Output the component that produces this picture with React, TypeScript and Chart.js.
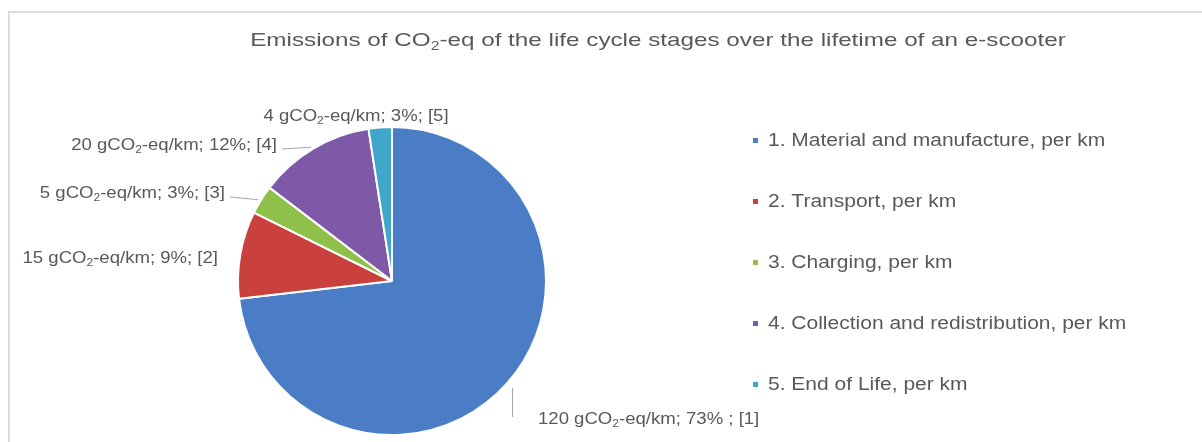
import React, { useEffect, useRef } from 'react';
import { Chart, registerables } from 'chart.js';

Chart.register(...registerables);

// ---------- data ----------
const titleParts = [
  { t: 'Emissions of CO' },
  { t: '2', sub: true },
  { t: '-eq of the life cycle stages over the lifetime of an e-scooter' },
];
const categories = [
  '1. Material and manufacture, per km',
  '2. Transport, per km',
  '3. Charging, per km',
  '4. Collection and redistribution, per km',
  '5. End of Life, per km',
];
const values = [120, 15, 5, 20, 4];
const percentLabels = ['73% ', '9%', '3%', '12%', '3%'];
const refLabels = ['[1]', '[2]', '[3]', '[4]', '[5]'];
const unitPre = ' gCO';
const unitSub = '2';
const unitPost = '-eq/km';

// ---------- styles / layout ----------
const colors = ['#4A7DC6', '#C9403D', '#8EC04A', '#7D59A7', '#3FA7C9'];
const FONT = '"Liberation Sans", Arial, sans-serif';
const TEXT = '#595959';
const LEADER = '#A6A6A6';

// label placement relative to pie centre (dx, dy = baseline)
const labelLayout = [
  { align: 'left', dx: 146, dy: 143, leader: 'vertical' },
  { align: 'right', dx: -174, dy: -18, leader: 'none' },
  { align: 'right', dx: -167, dy: -83, leader: 'side' },
  { align: 'right', dx: -115, dy: -131, leader: 'side' },
  { align: 'center', dx: -36, dy: -160, leader: 'none' },
];

type Part = { t: string; sub?: boolean };

function partsWidth(ctx: CanvasRenderingContext2D, parts: Part[], size: number) {
  let w = 0;
  for (const p of parts) {
    ctx.font = `${p.sub ? size * 0.65 : size}px ${FONT}`;
    w += ctx.measureText(p.t).width;
  }
  return w;
}

function drawRich(
  ctx: CanvasRenderingContext2D,
  parts: Part[],
  x: number,
  y: number,
  size: number,
  sx: number,
  align: string
) {
  const w = partsWidth(ctx, parts, size) * sx;
  const startX = align === 'left' ? x : align === 'right' ? x - w : x - w / 2;
  ctx.save();
  ctx.translate(startX, y);
  ctx.scale(sx, 1);
  ctx.fillStyle = TEXT;
  ctx.textAlign = 'left';
  ctx.textBaseline = 'alphabetic';
  let cx = 0;
  for (const p of parts) {
    const fs = p.sub ? size * 0.65 : size;
    ctx.font = `${fs}px ${FONT}`;
    ctx.fillText(p.t, cx, p.sub ? size * 0.2 : 0);
    cx += ctx.measureText(p.t).width;
  }
  ctx.restore();
  return { left: startX, right: startX + w };
}

const decorPlugin = {
  id: 'decor',
  beforeDraw(chart: any) {
    const ctx: CanvasRenderingContext2D = chart.ctx;
    ctx.save();
    ctx.fillStyle = '#ffffff';
    ctx.fillRect(0, 0, chart.width, chart.height);
    ctx.strokeStyle = '#DCDCDC';
    ctx.lineWidth = 2;
    ctx.beginPath();
    ctx.moveTo(9, chart.height + 2);
    ctx.lineTo(9, 12);
    ctx.lineTo(chart.width + 2, 12);
    ctx.stroke();
    ctx.restore();
  },
  afterDraw(chart: any) {
    const ctx: CanvasRenderingContext2D = chart.ctx;
    // title
    drawRich(ctx, titleParts, 658, 46, 18.5, 1.31, 'center');

    // legend
    categories.forEach((c, i) => {
      const base = 146 + i * 61;
      ctx.save();
      ctx.fillStyle = colors[i];
      ctx.fillRect(753, base - 8, 5, 5);
      ctx.restore();
      drawRich(ctx, [{ t: c }], 768, base, 17.5, 1.2, 'left');
    });

    // data labels
    const meta = chart.getDatasetMeta(0);
    meta.data.forEach((arc: any, i: number) => {
      const cx = arc.x;
      const cy = arc.y;
      const r = arc.outerRadius;
      const mid = (arc.startAngle + arc.endAngle) / 2;
      const L = labelLayout[i];
      const parts: Part[] = [
        { t: `${values[i]}${unitPre}` },
        { t: unitSub, sub: true },
        { t: `${unitPost}; ${percentLabels[i]}; ${refLabels[i]}` },
      ];
      const tx = cx + L.dx;
      const ty = cy + L.dy;
      const box = drawRich(ctx, parts, tx, ty, 16, 1.16, L.align);
      ctx.save();
      ctx.strokeStyle = LEADER;
      ctx.lineWidth = 1;
      if (L.leader === 'side') {
        const ex = cx + Math.cos(mid) * (r + 4);
        const ey = cy + Math.sin(mid) * (r + 4);
        ctx.beginPath();
        ctx.moveTo(box.right + 5, ty - 1);
        ctx.lineTo(ex, ey + 2);
        ctx.stroke();
      } else if (L.leader === 'vertical') {
        const sx = cx + Math.cos(mid) * (r + 7);
        const sy = cy + Math.sin(mid) * (r + 7);
        ctx.beginPath();
        ctx.moveTo(Math.round(sx) + 0.5, sy);
        ctx.lineTo(Math.round(sx) + 0.5, ty - 7);
        ctx.stroke();
      }
      ctx.restore();
    });
  },
};

export default function App() {
  const ref = useRef<HTMLCanvasElement>(null);
  useEffect(() => {
    const chart = new Chart(ref.current as HTMLCanvasElement, {
      type: 'pie',
      data: {
        labels: categories,
        datasets: [
          {
            data: values,
            backgroundColor: colors,
            borderColor: '#ffffff',
            borderWidth: 2,
            radius: 154,
          } as any,
        ],
      },
      options: {
        responsive: false,
        animation: false,
        radius: 154,
        layout: { padding: { left: 0, right: 418, top: 120, bottom: 0 } },
        plugins: {
          legend: { display: false },
          tooltip: { enabled: false },
          title: { display: false },
        },
      } as any,
      plugins: [decorPlugin],
    });
    return () => chart.destroy();
  }, []);
  return (
    <div style={{ position: 'absolute', left: 0, top: 0, width: 1202, height: 442, background: '#fff' }}>
      <canvas ref={ref} width={1202} height={442} style={{ width: 1202, height: 442, display: 'block' }} />
    </div>
  );
}
